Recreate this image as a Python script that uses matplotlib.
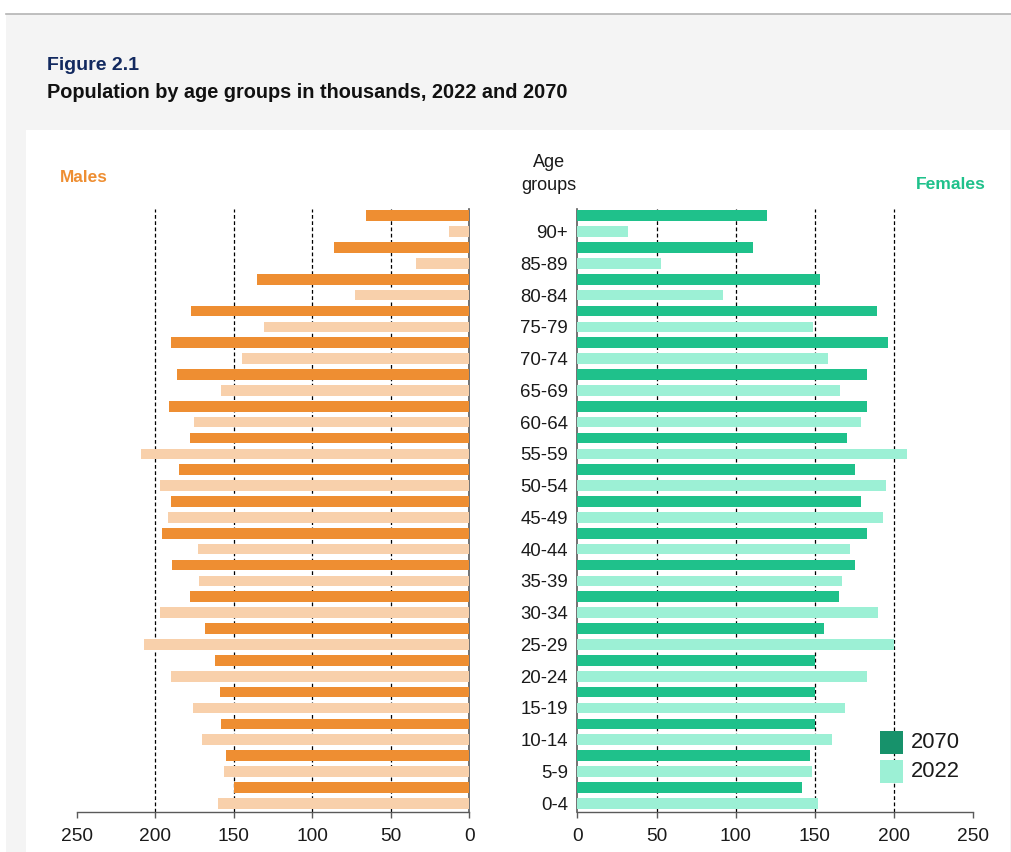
import matplotlib
matplotlib.use("Agg")
import matplotlib.pyplot as plt
from matplotlib.patches import Rectangle
from matplotlib.lines import Line2D
import numpy as np

plt.rcParams['font.family'] = ['Liberation Sans', 'DejaVu Sans']

# ---- data (bottom to top) ----
age_groups = ["0-4", "5-9", "10-14", "15-19", "20-24", "25-29", "30-34", "35-39",
              "40-44", "45-49", "50-54", "55-59", "60-64", "65-69", "70-74",
              "75-79", "80-84", "85-89", "90+"]
males_2070 = [150, 155, 158, 159, 162, 168, 178, 189, 196, 190, 185, 178, 191, 186,
              190, 177, 135, 86, 66]
males_2022 = [160, 156, 170, 176, 190, 207, 197, 172, 173, 192, 197, 209, 175, 158,
              145, 131, 73, 34, 13]
females_2070 = [142, 147, 150, 150, 150, 156, 165, 175, 183, 179, 175, 170, 183, 183,
                196, 189, 153, 111, 120]
females_2022 = [152, 148, 161, 169, 183, 200, 190, 167, 172, 193, 195, 208, 179, 166,
                158, 149, 92, 53, 32]
x_ticks = [0, 50, 100, 150, 200, 250]
legend_labels = ["2070", "2022"]

# ---- colours ----
c_m70 = "#ee8e32"
c_m22 = "#f8d0ab"
c_f70 = "#1fc18b"
c_f22 = "#9cf0d5"
c_leg70 = "#17926b"
c_leg22 = "#9cf0d5"
spine_c = "#5a5a5a"

W, H = 1012, 852
fig = plt.figure(figsize=(W / 100, H / 100), dpi=100, facecolor="white")

def fx(px):
    return px / W

def fy(py):
    return 1 - py / H

# background
fig.add_artist(Rectangle((fx(6), 0), fx(1006), 1 - 14 / H, transform=fig.transFigure,
                         facecolor="#f4f4f4", edgecolor="none", zorder=-10))
fig.add_artist(Line2D([fx(6), 1], [fy(13.5), fy(13.5)], transform=fig.transFigure,
                      color="#b4b4b4", lw=1.2, zorder=-9))
fig.add_artist(Rectangle((fx(26), 0), fx(1010 - 26), 1 - 130 / H, transform=fig.transFigure,
                         facecolor="white", edgecolor="none", zorder=-8))

# titles
fig.text(fx(47), fy(70), "Figure 2.1", fontsize=14, fontweight="bold", color="#12295f",
         va="baseline", ha="left")
fig.text(fx(47), fy(98), "Population by age groups in thousands, 2022 and 2070",
         fontsize=14.35, fontweight="bold", color="#111111", va="baseline", ha="left")

# axes geometry
top_px, bot_px = 209.3, 811.7
ax_h = (bot_px - top_px) / H
ax_b = 1 - bot_px / H
axL = fig.add_axes([fx(76.7), ax_b, fx(469.3 - 76.7), ax_h])
axR = fig.add_axes([fx(577.3), ax_b, fx(973.3 - 577.3), ax_h])
for a in (axL, axR):
    a.set_facecolor("none")

n = len(age_groups)
y22 = np.arange(n) * 2.0
y70 = y22 + 1.0
bh = 0.67

axL.barh(y70, males_2070, height=bh, color=c_m70, zorder=3)
axL.barh(y22, males_2022, height=bh, color=c_m22, zorder=3)
axR.barh(y70, females_2070, height=bh, color=c_f70, zorder=3)
axR.barh(y22, females_2022, height=bh, color=c_f22, zorder=3)

axL.set_xlim(250, 0)
axR.set_xlim(0, 250)
for a in (axL, axR):
    a.set_ylim(-0.53, 37.4)
    a.set_xticks(x_ticks)
    a.set_xticklabels([str(t) for t in x_ticks])
    a.tick_params(axis="x", direction="out", length=4, width=1, color=spine_c,
                  labelsize=13.8, labelcolor="#1a1a1a", pad=8)
    for xv in x_ticks[1:-1]:
        a.axvline(xv, color="black", lw=0.9, ls=(0, (3, 2)), zorder=1)
    a.spines["top"].set_visible(False)
    a.spines["bottom"].set_color(spine_c)
    a.spines["bottom"].set_linewidth(1)

axL.spines["left"].set_visible(False)
axL.spines["right"].set_color(spine_c)
axL.spines["right"].set_linewidth(1.2)
axL.set_yticks([])

axR.spines["right"].set_visible(False)
axR.spines["left"].set_color(spine_c)
axR.spines["left"].set_linewidth(1.2)
axR.set_yticks(y22)
axR.set_yticklabels(age_groups)
axR.tick_params(axis="y", length=0, pad=6.7, labelsize=13.4, labelcolor="#1a1a1a")

# panel labels
fig.text(fx(549), fy(167.3), "Age", fontsize=13, color="#1a1a1a", ha="center", va="baseline")
fig.text(fx(549), fy(190), "groups", fontsize=13, color="#1a1a1a", ha="center", va="baseline")
fig.text(fx(60), fy(181.7), "Males", fontsize=12.4, fontweight="bold", color=c_m70,
         ha="left", va="baseline")
fig.text(fx(916), fy(189), "Females", fontsize=12.6, fontweight="bold", color=c_f70,
         ha="left", va="baseline")

# legend
for (lab, col, ytop) in zip(legend_labels, [c_leg70, c_leg22], [730.7, 760]):
    fig.add_artist(Rectangle((fx(880), fy(ytop + 23.3)), fx(23.3), 23.3 / H,
                             transform=fig.transFigure, facecolor=col, edgecolor="none",
                             zorder=5))
    fig.text(fx(911), fy(ytop + 11.7), lab, fontsize=15.8, color="#1a1a1a",
             ha="left", va="center", zorder=6)

fig.savefig("out.png", dpi=100, facecolor="white")
